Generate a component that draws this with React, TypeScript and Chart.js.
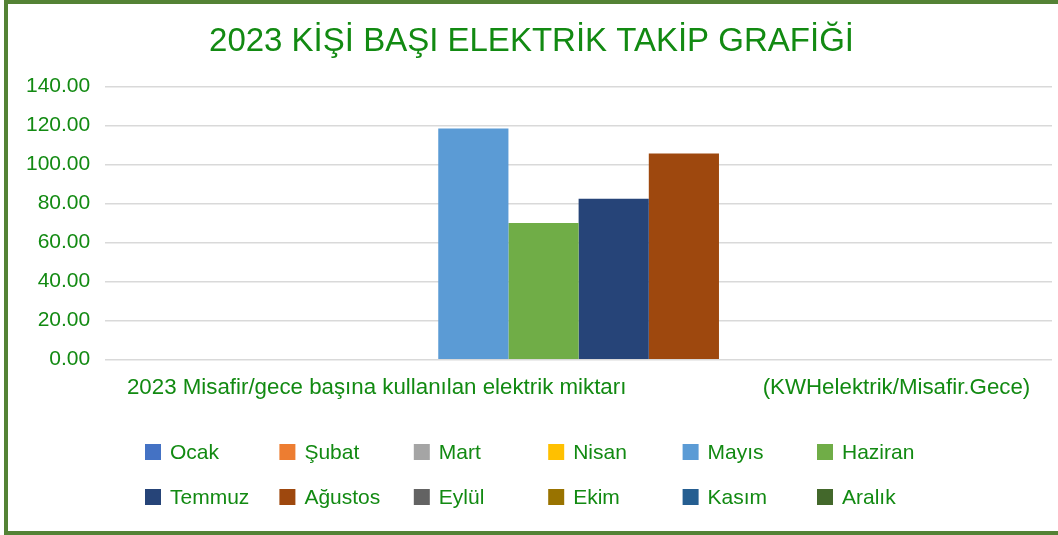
import React, { useEffect, useRef } from "react";
import { Chart, registerables } from "chart.js";

Chart.register(...registerables);

const TITLE = "2023 KİŞİ BAŞI ELEKTRİK TAKİP GRAFİĞİ";
const CATEGORY_PARTS = [
  "2023 Misafir/gece başına kullanılan elektrik miktarı",
  "(KWHelektrik/Misafir.Gece)",
];
const months = [
  "Ocak", "Şubat", "Mart", "Nisan", "Mayıs", "Haziran",
  "Temmuz", "Ağustos", "Eylül", "Ekim", "Kasım", "Aralık",
];
const values = [0, 0, 0, 0, 118.5, 70.1, 82.5, 105.7, 0, 0, 0, 0];
const colors = [
  "#4472C4", "#ED7D31", "#A5A5A5", "#FFC000", "#5B9BD5", "#70AD47",
  "#264478", "#9E480E", "#636363", "#997300", "#255E91", "#43682B",
];
const yTicks = [0, 20, 40, 60, 80, 100, 120, 140];

const GREEN_TEXT = "#128A12";
const FONT = "'Liberation Sans', Arial, sans-serif";

const frameAndLegend = {
  id: "frameAndLegend",
  beforeDraw(chart: any) {
    const { ctx, width, height } = chart;
    ctx.save();
    ctx.fillStyle = "#ffffff";
    ctx.fillRect(0, 0, width, height);
    ctx.restore();
  },
  afterDraw(chart: any) {
    const { ctx, width, height } = chart;
    ctx.save();
    // frame
    ctx.fillStyle = "#548235";
    ctx.fillRect(4, 0, width - 4, 4);
    ctx.fillRect(4, 0, 4, height);
    ctx.fillRect(4, height - 4, width - 4, 4);
    // legend grid (6 columns x 2 rows)
    const x0 = 145;
    const step = 134.4;
    const rows = [452, 497];
    ctx.font = `21px ${FONT}`;
    ctx.textBaseline = "middle";
    ctx.textAlign = "left";
    chart.data.datasets.forEach((ds: any, i: number) => {
      const col = i % 6;
      const row = Math.floor(i / 6);
      const x = x0 + col * step;
      const y = rows[row];
      ctx.fillStyle = ds.backgroundColor;
      ctx.fillRect(x, y - 8, 16, 16);
      ctx.fillStyle = GREEN_TEXT;
      ctx.fillText(ds.label, x + 25, y + 1);
    });
    ctx.restore();
  },
};

export default function App() {
  const ref = useRef<HTMLCanvasElement>(null);
  useEffect(() => {
    document.body.style.margin = "0";
    const label = CATEGORY_PARTS[0] + " ".repeat(22) + CATEGORY_PARTS[1];
    const chart = new Chart(ref.current!, {
      type: "bar",
      data: {
        labels: [label],
        datasets: months.map((m, i) => ({
          label: m,
          data: [values[i]],
          backgroundColor: colors[i],
          borderWidth: 0,
          categoryPercentage: 0.8895,
          barPercentage: 1,
        })),
      },
      options: {
        responsive: false,
        animation: false,
        devicePixelRatio: 1,
        layout: { padding: { left: 11, right: 6, top: 4, bottom: 118.6 } },
        plugins: {
          legend: { display: false },
          tooltip: { enabled: false },
          title: {
            display: true,
            text: TITLE,
            color: GREEN_TEXT,
            font: { family: FONT, size: 33, weight: "normal" },
            padding: { top: 18, bottom: 25 },
          },
        },
        scales: {
          x: {
            grid: { display: false, drawTicks: false },
            border: { display: false },
            ticks: {
              color: GREEN_TEXT,
              font: { family: FONT, size: 22.3 },
              padding: 15,
              maxRotation: 0,
              autoSkip: false,
            },
          },
          y: {
            min: 0,
            max: 140,
            afterBuildTicks: (scale: any) => {
              scale.ticks = yTicks.map((v) => ({ value: v }));
            },
            grid: { color: "#d9d9d9", lineWidth: 1.5, drawTicks: false },
            border: { display: false },
            ticks: {
              color: GREEN_TEXT,
              font: { family: FONT, size: 21 },
              padding: 15,
              callback: (v: any) => Number(v).toFixed(2),
            },
          },
        },
      },
      plugins: [frameAndLegend],
    });
    return () => chart.destroy();
  }, []);
  return (
    <div style={{ position: "absolute", left: 0, top: 0, width: 1058, height: 535 }}>
      <canvas ref={ref} width={1058} height={535} />
    </div>
  );
}
